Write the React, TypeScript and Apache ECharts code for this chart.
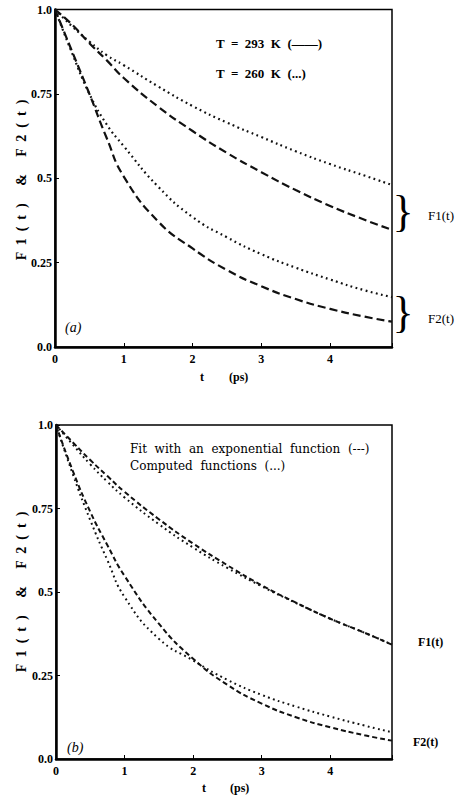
import React, { useEffect, useRef } from "react";
import * as echarts from "echarts";

// Sampling times (ps) shared by every curve
const tPoints = [0, 0.25, 0.5, 0.75, 1, 1.5, 2, 2.5, 3, 3.5, 4, 4.5, 4.9];

// Panel (a): correlation functions at two temperatures
const f1At293 = [1.0, 0.955, 0.9, 0.85, 0.797, 0.712, 0.64, 0.575, 0.518, 0.465, 0.418, 0.377, 0.347];
const f1At260 = [1.0, 0.95, 0.905, 0.865, 0.835, 0.772, 0.714, 0.665, 0.622, 0.58, 0.542, 0.508, 0.48];
const f2At293 = [1.0, 0.875, 0.75, 0.62, 0.505, 0.372, 0.292, 0.228, 0.18, 0.142, 0.113, 0.09, 0.075];
const f2At260 = [1.0, 0.87, 0.75, 0.66, 0.595, 0.475, 0.385, 0.325, 0.275, 0.235, 0.2, 0.168, 0.148];

// Panel (b): exponential fits against computed functions
const f1Fit = [1.0, 0.947, 0.895, 0.847, 0.8, 0.718, 0.645, 0.58, 0.52, 0.468, 0.42, 0.378, 0.342];
const f1Computed = [1.0, 0.94, 0.882, 0.83, 0.783, 0.703, 0.633, 0.572, 0.517, 0.467, 0.42, 0.378, 0.343];
const f2Fit = [1.0, 0.86, 0.74, 0.64, 0.548, 0.405, 0.3, 0.222, 0.166, 0.125, 0.095, 0.071, 0.055];
const f2Computed = [1.0, 0.85, 0.715, 0.595, 0.485, 0.36, 0.295, 0.237, 0.192, 0.157, 0.127, 0.1, 0.08];

const yTickValues = [0, 0.25, 0.5, 0.75, 1];
const yTickLabels = ["0.0", "0.25", "0.5", "0.75", "1.0"];
const xTickLabels = ["0", "1", "2", "3", "4"];

const SERIF = "'Liberation Serif', 'DejaVu Serif', serif";
const WIDE_SERIF = "'DejaVu Serif', serif";

const pairs = (vals: number[]) => tPoints.map((t, i) => [t, vals[i]]);

const DASH_LONG = [8, 4];
const DASH_SHORT = [5, 3];
const DOT = [1.8, 3.4];

function line(name: string, vals: number[], grid: number, dash: number[], width = 2) {
  return {
    name,
    type: "line",
    xAxisIndex: grid,
    yAxisIndex: grid,
    data: pairs(vals),
    smooth: 0.5,
    showSymbol: false,
    symbol: "none",
    lineStyle: { color: "#111", width, type: dash, cap: "butt" },
  };
}

function xAxis(grid: number) {
  return {
    type: "value",
    gridIndex: grid,
    min: 0,
    max: 4.9,
    interval: 1,
    axisLine: { show: true, lineStyle: { color: "#000", width: 2.5 } },
    axisTick: { show: true, inside: true, length: 4, lineStyle: { color: "#000", width: 1 } },
    splitLine: { show: false },
    axisLabel: {
      margin: 6,
      color: "#000",
      fontFamily: SERIF,
      fontWeight: "bold",
      fontSize: 12,
      formatter: (v: number) => {
        const i = Math.round(v);
        return Math.abs(v - i) < 1e-6 && i < xTickLabels.length ? xTickLabels[i] : "";
      },
    },
  };
}

function yAxis(grid: number) {
  return {
    type: "value",
    gridIndex: grid,
    min: 0,
    max: 1,
    interval: 0.25,
    axisLine: { show: true, lineStyle: { color: "#000", width: 2.5 } },
    axisTick: { show: true, inside: true, length: 4, lineStyle: { color: "#000", width: 1 } },
    splitLine: { show: false },
    axisLabel: {
      margin: 3,
      color: "#000",
      fontFamily: SERIF,
      fontWeight: "bold",
      fontSize: 12,
      formatter: (v: number) => {
        const idx = yTickValues.findIndex((y) => Math.abs(y - v) < 1e-6);
        return idx >= 0 ? yTickLabels[idx] : "";
      },
    },
  };
}

const boldText = (text: string, x: number, y: number, size = 12) => ({
  type: "text",
  x,
  y,
  style: {
    text,
    fill: "#000",
    font: `bold ${size}px ${SERIF}`,
    textAlign: "left",
    textVerticalAlign: "middle",
  },
});

const plainText = (text: string, x: number, y: number, font: string) => ({
  type: "text",
  x,
  y,
  style: { text, fill: "#000", font, textAlign: "left", textVerticalAlign: "middle" },
});

const brace = (x: number, y: number) => ({
  type: "text",
  x,
  y,
  style: {
    text: "}",
    fill: "#000",
    font: `44px ${SERIF}`,
    textAlign: "center",
    textVerticalAlign: "middle",
  },
});

const yName = (y: number) => ({
  type: "text",
  x: 21,
  y,
  rotation: Math.PI / 2,
  style: {
    text: "F  1  (  t  )     &     F  2  (  t  )",
    fill: "#000",
    font: `bold 14px ${SERIF}`,
    textAlign: "center",
    textVerticalAlign: "middle",
  },
});

export default function App() {
  const ref = useRef<HTMLDivElement>(null);

  useEffect(() => {
    if (!ref.current) return;
    const chart = echarts.init(ref.current, undefined, { renderer: "svg" });
    chart.setOption({
      animation: false,
      backgroundColor: "#fff",
      grid: [
        { left: 55, top: 9.5, width: 337, height: 337.5, show: true, borderColor: "#000", borderWidth: 1.5, backgroundColor: "transparent" },
        { left: 56, top: 425, width: 336, height: 334, show: true, borderColor: "#000", borderWidth: 1.5, backgroundColor: "transparent" },
      ],
      xAxis: [xAxis(0), xAxis(1)],
      yAxis: [yAxis(0), yAxis(1)],
      series: [
        line("F1 293 K", f1At293, 0, DASH_LONG, 2.2),
        line("F1 260 K", f1At260, 0, DOT, 2.2),
        line("F2 293 K", f2At293, 0, DASH_LONG, 2.2),
        line("F2 260 K", f2At260, 0, DOT, 2.2),
        line("F1 fit", f1Fit, 1, DASH_SHORT, 2),
        line("F1 computed", f1Computed, 1, DOT, 2),
        line("F2 fit", f2Fit, 1, DASH_SHORT, 2),
        line("F2 computed", f2Computed, 1, DOT, 2),
      ],
      graphic: [
        // panel (a)
        boldText("T  =  293  K  (\u2014\u2014)", 216, 43, 13),
        boldText("T  =  260  K  (...)", 216, 73, 13),
        plainText("(a)", 65, 327, `italic 14px ${SERIF}`),
        brace(403, 211),
        brace(403, 312),
        plainText("F1(t)", 428, 215, `13px ${SERIF}`),
        plainText("F2(t)", 428, 318, `13px ${SERIF}`),
        yName(180),
        boldText("t", 200, 377),
        boldText("(ps)", 229, 377),
        // panel (b)
        plainText("Fit  with  an  exponential  function  (---)", 130, 449, `12px ${WIDE_SERIF}`),
        plainText("Computed  functions  (...)", 130, 466, `12px ${WIDE_SERIF}`),
        plainText("(b)", 67, 747, `italic 14px ${SERIF}`),
        boldText("F1(t)", 418, 642),
        boldText("F2(t)", 413, 742),
        yName(592),
        boldText("t", 202, 788),
        boldText("(ps)", 230, 788),
      ],
    });
    return () => chart.dispose();
  }, []);

  return (
    <div
      ref={ref}
      style={{ position: "absolute", left: 0, top: 0, width: 467, height: 800, background: "#fff" }}
    />
  );
}
